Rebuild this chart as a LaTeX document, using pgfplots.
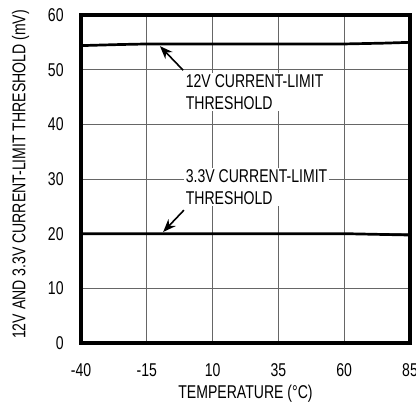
\documentclass[border=0pt]{standalone}
\usepackage{fontspec}
\setmainfont{Liberation Sans}[FakeStretch=0.76]
\usepackage{pgfplots}
\pgfplotsset{compat=1.18}
\usetikzlibrary{arrows.meta}
\newcommand\f{\fontsize{18.5}{21.5}\selectfont}
\begin{document}
\f
\begin{tikzpicture}
\begin{axis}[
  name=ax,
  scale only axis,
  width=329pt, height=328pt,
  xmin=-40, xmax=85, ymin=0, ymax=60,
  xtick={-40,-15,10,35,60,85},
  ytick={0,10,20,30,40,50,60},
  /pgf/number format/assume math mode=true,
  tick label style={font=\f},
  major tick length=0pt,
  grid=major,
  grid style={black!60, line width=0.9pt},
  axis line style={line width=3.2pt},
  yticklabel style={xshift=-11pt},
  xticklabel style={yshift=-14pt},
  xlabel={TEMPERATURE (°C)},
  ylabel={12V AND 3.3V CURRENT-LIMIT THRESHOLD (mV)},
  xlabel style={font=\f, at={(axis description cs:0.5,-0.1098)}, anchor=north},
  ylabel style={font=\f, at={(axis description cs:-0.1383,0.514)}, anchor=south, rotate=0},
  clip=false,
]
\addplot[black, line width=2.7pt] coordinates {
  (-40,54.4) (-25,54.6) (-15,54.7) (10,54.7) (35,54.7) (60,54.7) (75,54.85) (85,55.0)
};
\addplot[black, line width=2.7pt] coordinates {
  (-40,20.0) (35,20.0) (60,20.0) (70,19.9) (85,19.75)
};
\node[fill=white, inner sep=2pt, anchor=north west, align=left, font=\f] at (axis cs:-1.0,49.5) {12V CURRENT-LIMIT\\THRESHOLD};
\node[fill=white, inner sep=2pt, anchor=north west, align=left, font=\f] at (axis cs:-1.0,32.1) {3.3V CURRENT-LIMIT\\THRESHOLD};
\draw[-{Stealth[length=13pt,width=10pt]}, line width=1.6pt] (axis cs:-1.2,49.9) -- (axis cs:-10,54.3);
\draw[-{Stealth[length=13pt,width=10pt]}, line width=1.6pt] (axis cs:-0.9,24.3) -- (axis cs:-8.8,20.3);
\end{axis}
\pgfresetboundingbox
\path ([xshift=-81pt,yshift=-59pt]ax.south west) rectangle ([xshift=6pt,yshift=15pt]ax.north east);
\end{tikzpicture}
\end{document}
